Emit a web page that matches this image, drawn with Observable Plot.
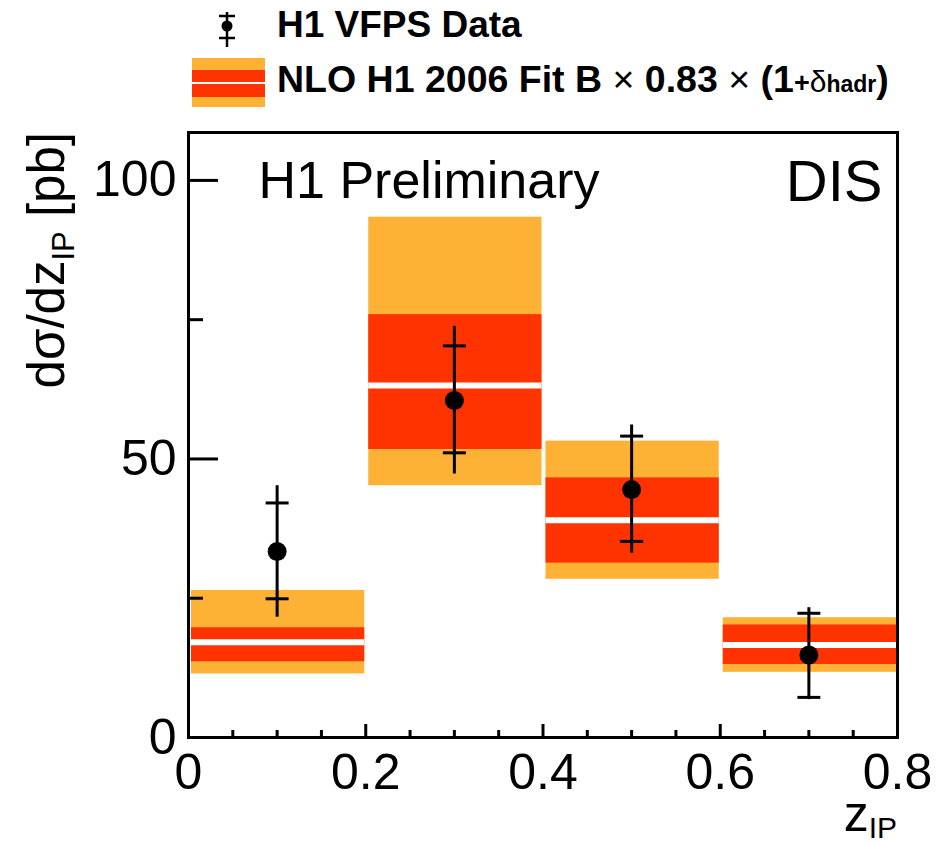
<!DOCTYPE html>
<html><head><meta charset="utf-8">
<script src="https://cdn.jsdelivr.net/npm/d3@7"></script>
<script src="https://cdn.jsdelivr.net/npm/@observablehq/plot@0.6"></script>
<style>
body{margin:0;background:#fff;font-family:"Liberation Sans",Arial,sans-serif;}
#legend{display:block;}
#chart svg{display:block;overflow:visible;}
</style></head><body>
<svg id="legend" width="952" height="112"></svg>
<div id="chart"></div>
<script>
// ---- data ----
const binLo = [0, 0.2, 0.4, 0.6];
const binHi = [0.2, 0.4, 0.6, 0.8];
const nloCentral = [17.1, 63.2, 39.0, 16.6];
const nloInnerHi = [19.7, 75.9, 46.6, 20.2];
const nloInnerLo = [13.6, 51.7, 31.3, 13.1];
const nloOuterHi = [26.4, 93.4, 53.2, 21.5];
const nloOuterLo = [11.4, 45.2, 28.4, 11.7];

const zIP = [0.1, 0.3, 0.5, 0.7];
const xsec = [33.4, 60.5, 44.5, 14.8];
const statHi = [42.1, 70.3, 54.1, 22.3];
const statLo = [24.9, 51.1, 35.2, 7.2];
const totHi = [45.2, 73.8, 56.1, 23.3];
const totLo = [21.6, 47.3, 33.1, 6.8];

const xMajorTicks = [0, 0.2, 0.4, 0.6, 0.8];
const xTickLabels = ["0", "0.2", "0.4", "0.6", "0.8"];
const xMinorTicks = [0.05, 0.1, 0.15, 0.25, 0.3, 0.35, 0.45, 0.5, 0.55, 0.65, 0.7, 0.75];
const yMajorTicks = [0, 50, 100];
const yTickLabels = ["0", "50", "100"];
const yMinorTicks = [25, 75];

const panelLabels = ["H1 Preliminary"];
const regionLabels = ["DIS"];
const legendData = "H1 VFPS Data";

const ORANGE = "#fdb235", RED = "#ff3300";

// ---- tables ----
const nlo = binLo.map((lo, i) => ({lo, hi: binHi[i], c: nloCentral[i], ih: nloInnerHi[i], il: nloInnerLo[i], oh: nloOuterHi[i], ol: nloOuterLo[i]}));
const pts = zIP.map((z, i) => ({z, y: xsec[i], sh: statHi[i], sl: statLo[i], th: totHi[i], tl: totLo[i]}));

// ---- legend ----
const lg = d3.select("#legend");
lg.append("line").attr("x1",227).attr("x2",227).attr("y1",12).attr("y2",47).attr("stroke","#000").attr("stroke-width",2.5);
[16,38].forEach(y => lg.append("line").attr("x1",219).attr("x2",235).attr("y1",y).attr("y2",y).attr("stroke","#000").attr("stroke-width",2.5));
lg.append("circle").attr("cx",227).attr("cy",26).attr("r",5.5).attr("fill","#000");
lg.append("text").attr("x",277).attr("y",37).attr("font-size",37).attr("font-weight","bold").text(legendData);
lg.append("rect").attr("x",192).attr("y",58).attr("width",73).attr("height",49).attr("fill",ORANGE);
lg.append("rect").attr("x",192).attr("y",70).attr("width",73).attr("height",27).attr("fill",RED);
lg.append("rect").attr("x",192).attr("y",82).attr("width",73).attr("height",2).attr("fill","#fff");
const t2 = lg.append("text").attr("x",277).attr("y",92).attr("font-size",37.5).attr("font-weight","bold");
t2.append("tspan").text("NLO H1 2006 Fit B ");
t2.append("tspan").attr("font-weight","normal").text("×");
t2.append("tspan").text(" 0.83 ");
t2.append("tspan").attr("font-weight","normal").text("×");
t2.append("tspan").text(" (1");
t2.append("tspan").attr("font-size",27).text("+");
t2.append("tspan").attr("font-size",30).attr("font-weight","normal").text("δ");
t2.append("tspan").attr("font-size",23).text("hadr");
t2.append("tspan").text(")");

// ---- chart ----
const W = 952, H = 733, mL = 188, mR = 55, mT = 20, mB = 108;
const plotW = W - mL - mR, plotH = H - mT - mB;
const hbar = {draw(ctx, size) { const r = Math.sqrt(size / Math.PI); ctx.moveTo(-r, 0); ctx.lineTo(r, 0); }};

const chart = Plot.plot({
  width: W, height: H,
  marginLeft: mL, marginRight: mR, marginTop: mT, marginBottom: mB,
  x: {domain: [0, 0.8], axis: null},
  y: {domain: [0, 108.6], axis: null},
  style: {fontFamily: '"Liberation Sans", Arial, sans-serif', background: "#fff", color: "#000", overflow: "visible"},
  marks: [
    Plot.rect(nlo, {x1: "lo", x2: "hi", y1: "ol", y2: "oh", fill: ORANGE, insetLeft: 3, insetRight: 1}),
    Plot.rect(nlo, {x1: "lo", x2: "hi", y1: "il", y2: "ih", fill: RED, insetLeft: 3, insetRight: 1}),
    Plot.ruleY(nlo, {x1: "lo", x2: "hi", y: "c", stroke: "#fff", strokeWidth: 6, insetLeft: 3, insetRight: 1}),
    Plot.frame({stroke: "#000", strokeWidth: 3}),
    Plot.ruleX(xMajorTicks, {x: d => d, insetTop: plotH - 13, stroke: "#000", strokeWidth: 3}),
    Plot.ruleX(xMinorTicks, {x: d => d, insetTop: plotH - 7, stroke: "#000", strokeWidth: 3}),
    Plot.ruleY(yMajorTicks, {y: d => d, insetRight: plotW - 30, stroke: "#000", strokeWidth: 3}),
    Plot.ruleY(yMinorTicks, {y: d => d, insetRight: plotW - 15, stroke: "#000", strokeWidth: 3}),
    Plot.ruleX(pts, {x: "z", y1: "tl", y2: "th", stroke: "#000", strokeWidth: 3}),
    Plot.dot(pts, {x: "z", y: "sh", symbol: hbar, r: 11.5, stroke: "#000", strokeWidth: 3}),
    Plot.dot(pts, {x: "z", y: "sl", symbol: hbar, r: 11.5, stroke: "#000", strokeWidth: 3}),
    Plot.dot(pts, {x: "z", y: "y", r: 9.5, fill: "#000"}),
    Plot.text(xMajorTicks, {x: d => d, text: (d, i) => xTickLabels[i], frameAnchor: "bottom", lineAnchor: "top", dy: 16, fontSize: 50, fill: "#000"}),
    Plot.text(yMajorTicks, {y: d => d, text: (d, i) => yTickLabels[i], frameAnchor: "left", textAnchor: "end", dx: -12, fontSize: 50, fill: "#000"}),
    Plot.text(panelLabels, {text: d => d, frameAnchor: "top-left", textAnchor: "start", lineAnchor: "bottom", dx: 70, dy: 65, fontSize: 52, fill: "#000"}),
    Plot.text(regionLabels, {text: d => d, frameAnchor: "top-right", textAnchor: "end", lineAnchor: "bottom", dx: -15, dy: 68, fontSize: 58, fill: "#000"})
  ]
});
document.getElementById("chart").appendChild(chart);

const svg = d3.select(chart);
const yt = svg.append("text").attr("transform", `translate(64,${mT}) rotate(-90)`).attr("text-anchor", "end").attr("font-size", 51).attr("fill", "#000");
yt.append("tspan").text("dσ/dz");
yt.append("tspan").attr("font-size", 31).attr("dy", 10).text("IP");
yt.append("tspan").attr("dy", -10).text(" [pb]");
const xt = svg.append("text").attr("x", W - mR).attr("y", 719).attr("text-anchor", "end").attr("font-size", 50).attr("fill", "#000");
xt.append("tspan").text("z");
xt.append("tspan").attr("font-size", 30).attr("dy", 7).text("IP");
</script>
</body></html>
